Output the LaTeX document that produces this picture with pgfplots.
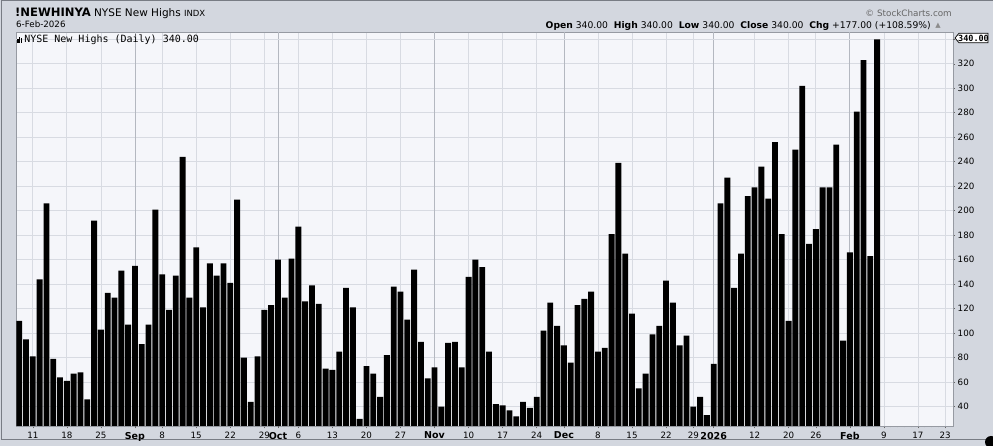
\documentclass[border=0pt]{standalone}
\usepackage{pgfplots}
\usepackage{pgfplotstable}
\pgfplotsset{compat=1.18}
\usepackage{fontspec}
\setmainfont{DejaVu Sans}
\setmonofont{DejaVu Sans Mono}
\definecolor{outerbg}{RGB}{211,215,223}
\definecolor{plotbg}{RGB}{245,246,250}
\definecolor{gridc}{RGB}{216,219,226}
\definecolor{gridm}{RGB}{180,184,192}
\definecolor{framec}{RGB}{150,154,162}
\definecolor{borderc}{RGB}{120,124,132}
\pgfplotstableread{
x y
1 110
2 95
3 81
4 144
5 206
6 79
7 64
8 61
9 67
10 68
11 46
12 192
13 103
14 133
15 129
16 151
17 107
18 155
19 91
20 107
21 201
22 148
23 119
24 147
25 244
26 129
27 170
28 121
29 157
30 147
31 157
32 141
33 209
34 80
35 44
36 81
37 119
38 123
39 160
40 129
41 161
42 187
43 126
44 139
45 124
46 71
47 70
48 85
49 137
50 121
51 30
52 73
53 67
54 48
55 82
56 138
57 134
58 111
59 152
60 93
61 63
62 72
63 40
64 92
65 93
66 72
67 146
68 160
69 154
70 85
71 42
72 41
73 37
74 32
75 44
76 39
77 48
78 102
79 125
80 106
81 90
82 76
83 123
84 128
85 134
86 85
87 88
88 181
89 239
90 165
91 116
92 55
93 67
94 99
95 106
96 143
97 125
98 90
99 98
100 40
101 48
102 33
103 75
104 206
105 227
106 137
107 165
108 212
109 219
110 236
111 210
112 256
113 181
114 110
115 250
116 302
117 173
118 185
119 219
120 219
121 254
122 94
123 166
124 281
125 323
126 163
127 340
}\datatable
\begin{document}
\begin{tikzpicture}
\useasboundingbox (0,0) rectangle (993pt,446pt);
\fill[outerbg] (0,0) rectangle (993pt,446pt);
\draw[borderc, line width=1pt] (1.5pt,6.5pt) rectangle (1000pt,445pt);
\begin{axis}[
  at={(16pt,20pt)}, anchor=south west,
  scale only axis, width=936.7pt, height=394pt,
  xmin=0.53, xmax=138.1, ymin=24.2, ymax=346,
  axis background/.style={fill=plotbg},
  axis line style={framec},
  ybar, bar width=0.86,
  ytick={40,60,...,320},
  extra y ticks={340}, extra y tick labels={},
  ymajorgrids, xmajorgrids,
  grid style={gridc, line width=0.8pt},
  yticklabel pos=right, ytick pos=right,
  xtick pos=bottom,
  xtick={3,8,13,22,27,32,37,42,47,52,57,67,72,77,86,91,96,100,109,114,118,128,133,137},
  xticklabels={11,18,25,8,15,22,29,6,13,20,27,10,17,24,8,15,22,29,12,20,26,9,17,23},
  extra x ticks={18,39,62,81,103,123},
  extra x tick labels={\textbf{Sep},\textbf{Oct},\textbf{Nov},\textbf{Dec},\textbf{2026},\textbf{Feb}},
  extra x tick style={grid style={gridm, line width=0.8pt}, tick label style={font=\fontsize{9.5}{11}\selectfont}},
  minor xtick={1,...,137},
  minor y tick num=3,
  tick align=outside,
  major tick length=2.5pt, minor tick length=1.5pt,
  tick style={black!60, line width=0.6pt},
  tick label style={font=\fontsize{8.7}{10}\selectfont},
  /pgf/number format/assume math mode=true,
  yticklabel style={anchor=west, xshift=-1pt},
  legend style={draw=none, fill=none, at={(0,1)}, anchor=north west,
    inner sep=1pt, font=\ttfamily\fontsize{10}{12}\selectfont},
  legend cell align=left,
  legend image code/.code={
    \fill[black] (0pt,-3.5pt) rectangle (1.3pt,0.5pt);
    \fill[black] (1.9pt,-3.5pt) rectangle (3.2pt,3.2pt);
    \fill[black] (3.8pt,-3.5pt) rectangle (5.1pt,1.6pt);
  },
]
\addplot[fill=black, draw=none] table[x=x, y=y] {\datatable};
\addlegendentry{NYSE New Highs (Daily) 340.00}
\end{axis}
% header texts
\node[anchor=base west, inner sep=0] at (15pt,429pt)
  {{\bfseries\fontsize{11.6}{13}\selectfont !NEWHINYA} {\fontsize{10.5}{12}\selectfont NYSE New Highs} {\fontsize{8.5}{10}\selectfont INDX}};
\node[anchor=base west, inner sep=0, font=\fontsize{8.7}{10}\selectfont] at (16pt,418pt) {6-Feb-2026};
\node[anchor=base east, inner sep=0, font=\fontsize{8.8}{10}\selectfont, text=black!60] at (952pt,429pt) {© StockCharts.com};
\node[anchor=base east, inner sep=0, font=\fontsize{9.2}{10}\selectfont] at (931pt,417pt)
  {\textbf{Open} 340.00\ \ \textbf{High} 340.00\ \ \textbf{Low} 340.00\ \ \textbf{Close} 340.00\ \ \textbf{Chg} +177.00 (+108.59\%)};
\node[anchor=base, inner sep=0, font=\fontsize{7}{8}\selectfont, text=black!45] at (938pt,418pt) {▲};
% last value box
\filldraw[fill=white, draw=black, line width=0.7pt] (955pt,408pt) -- (959pt,412.8pt) -- (988pt,412.8pt) -- (988pt,403.2pt) -- (959pt,403.2pt) -- cycle;
\node[inner sep=0, font=\ttfamily\bfseries\fontsize{8.5}{10}\selectfont] at (973.5pt,408pt) {340.00};
\fill[black] (991pt,4pt) circle (6pt);
\end{tikzpicture}
\end{document}
